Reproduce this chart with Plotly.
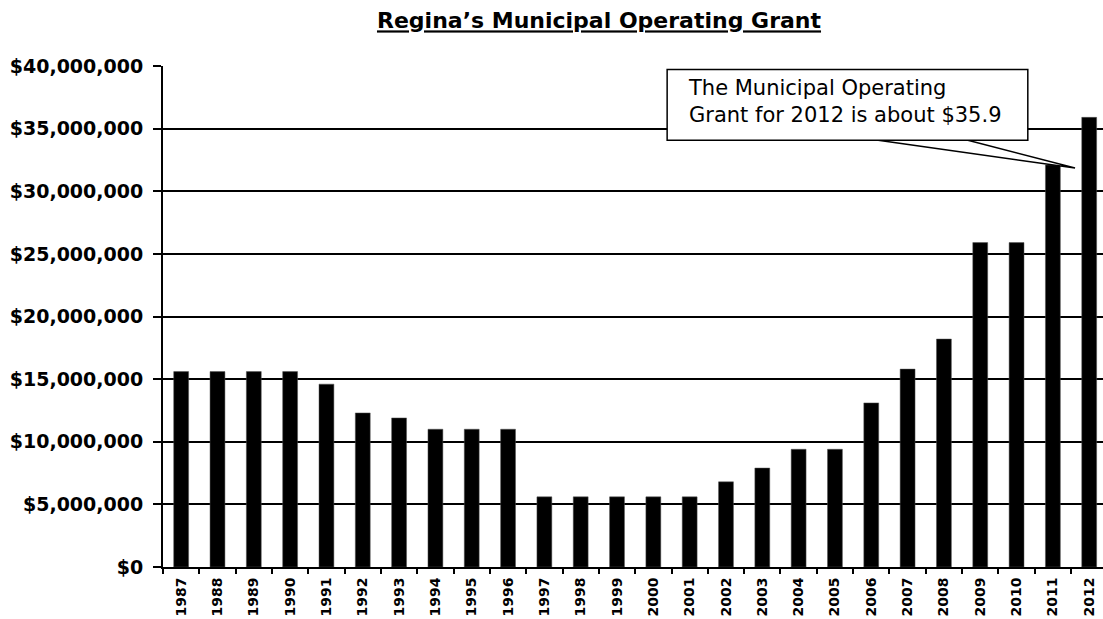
import plotly.graph_objects as go

years = ["1987", "1988", "1989", "1990", "1991", "1992", "1993", "1994", "1995",
         "1996", "1997", "1998", "1999", "2000", "2001", "2002", "2003", "2004",
         "2005", "2006", "2007", "2008", "2009", "2010", "2011", "2012"]
grants = [15600000, 15600000, 15600000, 15600000, 14600000, 12300000, 11900000,
          11000000, 11000000, 11000000, 5600000, 5600000, 5600000, 5600000,
          5600000, 6800000, 7900000, 9400000, 9400000, 13100000, 15800000,
          18200000, 25900000, 25900000, 32100000, 35900000]
y_ticks = [0, 5000000, 10000000, 15000000, 20000000, 25000000, 30000000,
           35000000, 40000000]
y_tick_labels = ["$0", "$5,000,000", "$10,000,000", "$15,000,000", "$20,000,000",
                 "$25,000,000", "$30,000,000", "$35,000,000", "$40,000,000"]
title_text = "Regina’s Municipal Operating Grant"
callout_text = "The Municipal Operating<br>Grant for 2012 is about $35.9"

FONT = "DejaVu Sans"

fig = go.Figure()
fig.add_trace(go.Bar(
    x=years, y=grants,
    marker=dict(color="black", line=dict(color="#555555", width=0.5)),
    width=0.41,
    hoverinfo="x+y",
))

# callout box and wedge (data coordinates)
fig.add_shape(type="path",
              path="M 19.19 34070000 L 24.61 31850000 L 21.66 34070000 Z",
              xref="x", yref="y", fillcolor="white",
              line=dict(color="black", width=1.5), layer="above")
fig.add_shape(type="rect", x0=13.38, x1=23.31, y0=34070000, y1=39730000,
              xref="x", yref="y", fillcolor="white",
              line=dict(color="black", width=1.5), layer="above")
fig.add_annotation(x=13.9, y=39400000, xref="x", yref="y",
                   xanchor="left", yanchor="top", align="left",
                   text=callout_text, showarrow=False,
                   font=dict(family=FONT, size=21, color="black"))

fig.update_layout(
    width=1103, height=619,
    margin=dict(l=163, r=0, t=66, b=52, autoexpand=False),
    plot_bgcolor="white", paper_bgcolor="white",
    showlegend=False,
    bargap=0.59,
    title=dict(text="<b><u>" + title_text + "</u></b>",
               x=599 / 1103, xanchor="center", xref="container",
               y=1 - 13 / 619, yanchor="top", yref="container",
               font=dict(family=FONT, size=22, color="black")),
    font=dict(family=FONT, color="black"),
)
fig.update_xaxes(
    type="category", range=[-0.5, 25.38], automargin=False,
    showline=True, linecolor="black", linewidth=2,
    ticks="outside", tickson="boundaries", ticklen=5, tickwidth=1.5, tickcolor="black",
    tickangle=-90, ticklabelstandoff=3,
    tickfont=dict(family=FONT, size=14, color="black", weight="bold"),
    showgrid=False, zeroline=False,
)
fig.update_yaxes(
    range=[0, 40000000], automargin=False,
    tickvals=y_ticks, ticktext=y_tick_labels,
    showline=True, linecolor="black", linewidth=2,
    ticks="outside", ticklen=8, tickwidth=1.5, tickcolor="black",
    ticklabelstandoff=6,
    tickfont=dict(family=FONT, size=19, color="black", weight="bold"),
    showgrid=True, gridcolor="black", gridwidth=1.5,
    zeroline=False,
)

fig.write_html("out.html",
               config={"displayModeBar": False},
               post_script="document.body.style.margin='0';document.body.style.overflow='hidden';")
